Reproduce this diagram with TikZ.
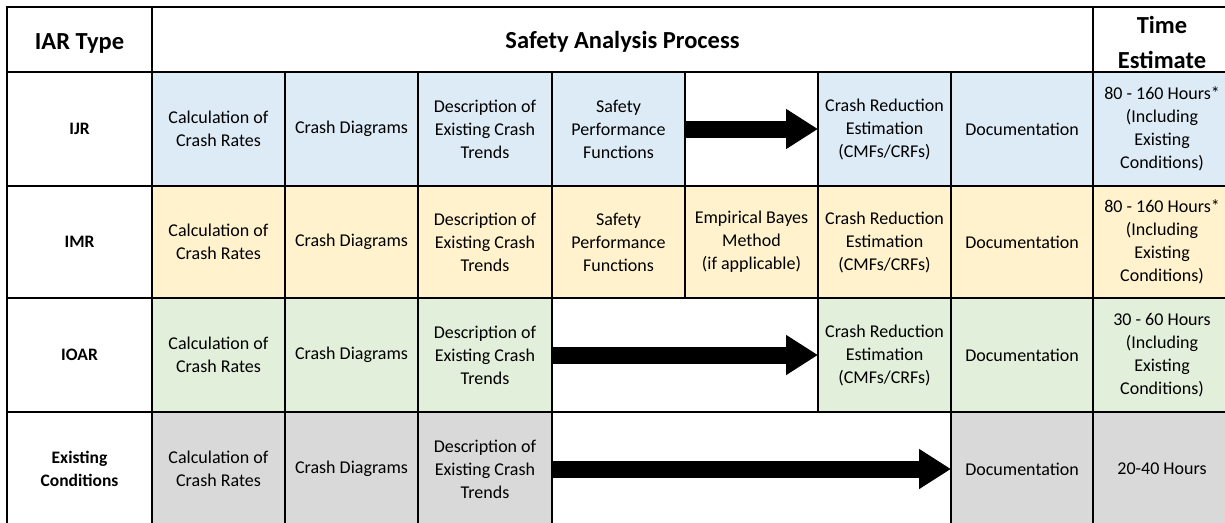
\documentclass[tikz,border=0pt]{standalone}
\usepackage{fontspec}
\setmainfont{Carlito}
\usetikzlibrary{arrows.meta}
\definecolor{cblue}{HTML}{DDEBF7}
\definecolor{cyellow}{HTML}{FFF2CC}
\definecolor{cgreen}{HTML}{E2EFDA}
\definecolor{cgray}{HTML}{D9D9D9}
\tikzset{
  cellsty/.style={rectangle, draw=black, line width=2.5pt, inner sep=0pt, outer sep=0pt,
    align=center, font=\fontsize{18}{23}\selectfont},
  headsty/.style={cellsty},
  headtxt/.style={inner sep=0pt, align=center, font=\fontsize{24.5}{35}\selectfont\bfseries},
  labsty/.style={cellsty, font=\fontsize{17.5}{23}\selectfont\bfseries},
  bigarrow/.style={draw=black, line width=17pt, -{Triangle[length=32pt, width=38pt]}}
}
\newcommand\mkcell[8]{%
  \pgfmathsetmacro\mkw{#5-#3}\pgfmathsetmacro\mkh{#6-#4}%
  \node[#1, fill=#7, minimum width=\mkw pt, minimum height=\mkh pt] (#2) at ({(#3+#5)/2},{(#4+#6)/2}) {#8};}
\begin{document}
\begin{tikzpicture}[x=1pt,y=-1pt]
\useasboundingbox (0,0) rectangle (1225,522);
\clip (0,0) rectangle (1225,522);
\fill[white] (0,0) rectangle (1225,522);
% header
\mkcell{headsty}{hA}{7}{7}{152}{72}{white}{}
\mkcell{headsty}{hB}{152}{7}{1093}{72}{white}{}
\mkcell{headsty}{hC}{1093}{7}{1231}{72}{white}{}
% IJR
\mkcell{labsty}{r1}{7}{72}{152}{186}{white}{IJR}
\mkcell{cellsty}{c11}{152}{72}{285}{186}{cblue}{Calculation of\\Crash Rates}
\mkcell{cellsty}{c12}{285}{72}{418}{186}{cblue}{Crash Diagrams}
\mkcell{cellsty}{c13}{418}{72}{552}{186}{cblue}{Description of\\Existing Crash\\Trends}
\mkcell{cellsty}{c14}{552}{72}{685}{186}{cblue}{Safety\\Performance\\Functions}
\mkcell{cellsty}{g1}{685}{72}{818}{186}{white}{}
\mkcell{cellsty}{c16}{818}{72}{951}{186}{cblue}{Crash Reduction\\Estimation\\(CMFs/CRFs)}
\mkcell{cellsty}{c17}{951}{72}{1093}{186}{cblue}{Documentation}
\mkcell{cellsty}{c18}{1093}{72}{1231}{186}{cblue}{80 - 160 Hours*\\(Including\\Existing\\Conditions)}
% IMR
\mkcell{labsty}{r2}{7}{186}{152}{298}{white}{IMR}
\mkcell{cellsty}{c21}{152}{186}{285}{298}{cyellow}{Calculation of\\Crash Rates}
\mkcell{cellsty}{c22}{285}{186}{418}{298}{cyellow}{Crash Diagrams}
\mkcell{cellsty}{c23}{418}{186}{552}{298}{cyellow}{Description of\\Existing Crash\\Trends}
\mkcell{cellsty}{c24}{552}{186}{685}{298}{cyellow}{Safety\\Performance\\Functions}
\mkcell{cellsty}{c25}{685}{186}{818}{298}{cyellow}{Empirical Bayes\\Method\\(if applicable)}
\mkcell{cellsty}{c26}{818}{186}{951}{298}{cyellow}{Crash Reduction\\Estimation\\(CMFs/CRFs)}
\mkcell{cellsty}{c27}{951}{186}{1093}{298}{cyellow}{Documentation}
\mkcell{cellsty}{c28}{1093}{186}{1231}{298}{cyellow}{80 - 160 Hours*\\(Including\\Existing\\Conditions)}
% IOAR
\mkcell{labsty}{r3}{7}{298}{152}{412}{white}{IOAR}
\mkcell{cellsty}{c31}{152}{298}{285}{412}{cgreen}{Calculation of\\Crash Rates}
\mkcell{cellsty}{c32}{285}{298}{418}{412}{cgreen}{Crash Diagrams}
\mkcell{cellsty}{c33}{418}{298}{552}{412}{cgreen}{Description of\\Existing Crash\\Trends}
\mkcell{cellsty}{g3}{552}{298}{818}{412}{white}{}
\mkcell{cellsty}{c36}{818}{298}{951}{412}{cgreen}{Crash Reduction\\Estimation\\(CMFs/CRFs)}
\mkcell{cellsty}{c37}{951}{298}{1093}{412}{cgreen}{Documentation}
\mkcell{cellsty}{c38}{1093}{298}{1231}{412}{cgreen}{30 - 60 Hours\\(Including\\Existing\\Conditions)}
% Existing Conditions
\mkcell{labsty}{r4}{7}{412}{152}{526}{white}{Existing\\Conditions}
\mkcell{cellsty}{c41}{152}{412}{285}{526}{cgray}{Calculation of\\Crash Rates}
\mkcell{cellsty}{c42}{285}{412}{418}{526}{cgray}{Crash Diagrams}
\mkcell{cellsty}{c43}{418}{412}{552}{526}{cgray}{Description of\\Existing Crash\\Trends}
\mkcell{cellsty}{g4}{552}{412}{951}{526}{white}{}
\mkcell{cellsty}{c47}{951}{412}{1093}{526}{cgray}{Documentation}
\mkcell{cellsty}{c48}{1093}{412}{1231}{526}{cgray}{20-40 Hours}
% header texts
\node[headtxt] (hAt) at (79.5,43) {IAR Type};
\node[headtxt] (hBt) at (622.5,42) {Safety Analysis Process};
\node[headtxt] (hCt) at (1162,42.5) {Time\\Estimate};
% arrows
\draw[bigarrow] (g1.west) -- (g1.east);
\draw[bigarrow] (g3.west) -- (g3.east);
\draw[bigarrow] (g4.west) -- (g4.east);
\end{tikzpicture}
\end{document}
